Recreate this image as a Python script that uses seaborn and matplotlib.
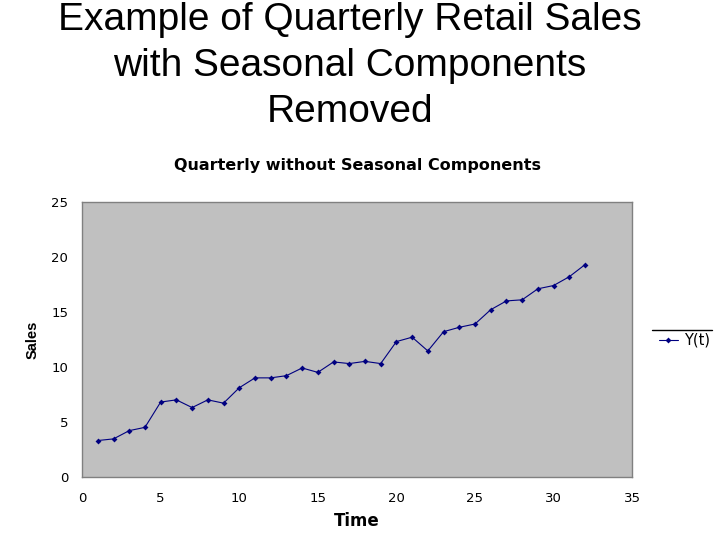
import numpy as np
import pandas as pd
import seaborn as sns
import matplotlib.pyplot as plt
from matplotlib.lines import Line2D

# Dane
time = list(range(1, 33))
sales = [3.3, 3.45, 4.2, 4.5, 6.8, 7.0, 6.3, 7.0, 6.7, 8.1,
         9.0, 9.0, 9.2, 9.9, 9.5, 10.45, 10.3, 10.5, 10.3, 12.3,
         12.7, 11.45, 13.2, 13.6, 13.9, 15.2, 16.0, 16.1, 17.1, 17.4,
         18.2, 19.3]
x_ticks = [0, 5, 10, 15, 20, 25, 30, 35]
y_ticks = [0, 5, 10, 15, 20, 25]

df = pd.DataFrame({'Time': time, 'Y(t)': sales})

sns.set_style("white")
plt.rcParams['font.family'] = ['DejaVu Sans']
plt.rcParams['text.color'] = 'black'
plt.rcParams['xtick.color'] = 'black'
plt.rcParams['ytick.color'] = 'black'
plt.rcParams['axes.labelcolor'] = 'black'

fig = plt.figure(figsize=(7.2, 5.4), dpi=100)
ax = fig.add_axes([0.114, 0.117, 0.764, 0.509])
ax.set_facecolor('#C0C0C0')

sns.lineplot(data=df, x='Time', y='Y(t)', ax=ax, color='#000080',
             linewidth=0.8, marker='D', markersize=3, markeredgewidth=0,
             label='Y(t)')

ax.set_xlim(0, 35)
ax.set_ylim(0, 25)
ax.set_xticks(x_ticks)
ax.set_yticks(y_ticks)
ax.tick_params(length=0, labelsize=9.5)
ax.tick_params(axis='x', pad=11)
ax.tick_params(axis='y', pad=10)
for s in ax.spines.values():
    s.set_color('#808080')
    s.set_linewidth(1)

ax.set_xlabel('Time', fontsize=12, fontweight='bold', labelpad=5)
ax.set_ylabel('Sales', fontsize=10.5, fontweight='bold', labelpad=8,
              family='Liberation Sans')

leg = ax.legend(loc='center left', bbox_to_anchor=(1.03, 0.496), frameon=False,
                fontsize=10.5, handlelength=1.3, handletextpad=0.4,
                borderpad=0.2)
fig.add_artist(Line2D([652 / 720, 712 / 720], [1 - 330 / 540, 1 - 330 / 540],
                      color='black', linewidth=1))

fig.text(0.497, 1 - 166 / 540, 'Quarterly without Seasonal Components', ha='center',
         va='center', fontsize=11.5, fontweight='bold')
fig.text(0.486, 1 - 122 / 540, 'Example of Quarterly Retail Sales\nwith Seasonal Components\nRemoved',
         ha='center', va='baseline', fontsize=28, linespacing=1.36,
         family='Liberation Sans')

fig.savefig('out.png', dpi=100, facecolor='white')
